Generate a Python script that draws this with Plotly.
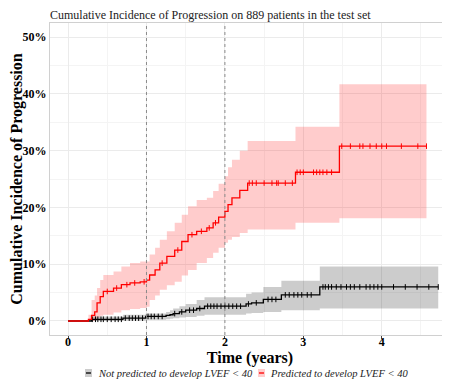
import numpy as np
import plotly.graph_objects as go

# ---- data (percent) ----
red_t  = [0, 0.26, 0.30, 0.34, 0.37, 0.41, 0.45, 0.58, 0.68, 0.79, 0.92, 1.00, 1.04, 1.11, 1.17, 1.26, 1.36, 1.45, 1.53, 1.64, 1.77, 1.85, 1.92, 2.00, 2.04, 2.09, 2.19, 2.29, 2.90, 3.46, 4.57]
red_y  = [0, 0.3, 1.0, 1.6, 3.2, 4.3, 5.2, 5.8, 6.4, 6.7, 6.9, 7.2, 8.1, 9.0, 10.2, 11.4, 12.5, 14.0, 15.2, 15.8, 16.4, 17.3, 18.3, 19.3, 20.5, 21.7, 23.0, 24.3, 26.2, 30.8, 30.8]
red_hi = [0, 1.1, 3.7, 4.5, 5.8, 7.2, 8.1, 8.7, 9.6, 10.2, 10.5, 10.5, 11.7, 12.9, 14.3, 15.8, 17.3, 18.7, 20.2, 21.3, 21.7, 22.9, 24.2, 25.5, 27.1, 28.4, 30.0, 31.7, 34.2, 41.7, 41.7]
red_lo = [0, 0, 0, 0.3, 0.6, 0.9, 1.1, 1.5, 1.9, 2.1, 2.3, 2.5, 3.7, 4.5, 5.5, 6.3, 6.9, 8.0, 9.0, 10.2, 11.1, 12.0, 12.9, 13.8, 14.3, 14.8, 15.5, 16.1, 17.3, 18.1, 18.1]

blk_t  = [0, 0.26, 0.30, 0.70, 0.99, 1.25, 1.30, 1.34, 1.42, 1.50, 1.64, 1.74, 2.27, 2.34, 2.49, 2.72, 3.21, 4.72]
blk_y  = [0, 0.0, 0.3, 0.5, 0.8, 1.0, 1.1, 1.3, 1.6, 1.9, 2.2, 2.6, 3.0, 3.2, 3.8, 4.6, 6.0, 6.0]
blk_hi = [0, 0, 0.8, 1.1, 1.3, 1.6, 1.9, 2.2, 2.6, 3.0, 3.7, 4.2, 4.8, 5.0, 6.0, 7.1, 9.6, 9.6]
blk_lo = [0, 0, 0, 0.1, 0.2, 0.3, 0.4, 0.5, 0.6, 0.7, 0.9, 1.1, 1.3, 1.4, 1.6, 1.9, 2.2, 2.2]

red_cens = [0.5, 0.62, 0.75, 0.85, 0.97, 1.2, 1.4, 1.58, 1.7, 1.8, 1.88, 2.31, 2.35, 2.40, 2.50, 2.60, 2.66, 2.68, 2.77, 2.86,
            2.92, 2.96, 3.00, 3.13, 3.17, 3.21, 3.25, 3.30, 3.36, 3.49, 3.60, 3.72, 3.76, 3.85, 3.93, 4.00, 4.06, 4.25, 4.46, 4.57]
blk_cens = [0.31, 0.35, 0.38, 0.42, 0.45, 0.5, 0.55, 0.6, 0.64, 0.68, 0.73, 0.78, 0.82, 0.86, 0.9, 0.95, 1.02, 1.06, 1.1, 1.15,
            1.2, 1.36, 1.45, 1.55, 1.6, 1.68, 1.78, 1.82, 1.86, 1.9, 1.95, 2.0, 2.05, 2.1, 2.15, 2.2, 2.3, 2.4, 2.55, 2.6, 2.65,
            2.77, 2.82, 2.88, 2.93, 2.98, 3.05, 3.1, 3.25, 3.28, 3.32, 3.36, 3.42, 3.48, 3.55, 3.6, 3.65, 3.72, 3.8, 3.85, 3.9,
            3.95, 4.0, 4.15, 4.3, 4.45, 4.6, 4.72]

y_ticks = [0, 10, 20, 30, 40, 50]
x_ticks = [0, 1, 2, 3, 4]
legend_names = ["Not predicted to develop LVEF < 40", "Predicted to develop LVEF < 40"]
legend_fill = ["rgba(0,0,0,0.2)", "rgba(255,0,0,0.2)"]
legend_line = ["black", "red"]

def step_at(ts, ys, q):
    idx = np.searchsorted(np.array(ts), np.array(q), side="right") - 1
    return [ys[i] for i in idx]

SERIF = "Liberation Serif, Times New Roman, serif"
fig = go.Figure()

def add_band(t, lo, hi, fillc, name):
    fig.add_trace(go.Scatter(x=t, y=lo, mode="lines", line=dict(width=0, shape="hv"),
                             showlegend=False, hoverinfo="skip"))
    fig.add_trace(go.Scatter(x=t, y=hi, mode="lines", line=dict(width=0, shape="hv"),
                             fill="tonexty", fillcolor=fillc, name=name, showlegend=False))

def add_curve(t, y, cens, color):
    fig.add_trace(go.Scatter(x=t, y=y, mode="lines", line=dict(color=color, width=1.3, shape="hv"),
                             showlegend=False))
    fig.add_trace(go.Scatter(x=cens, y=step_at(t, y, cens), mode="markers",
                             marker=dict(symbol="line-ns-open", size=4, color=color,
                                         line=dict(color=color, width=1)),
                             showlegend=False))

add_band(blk_t, blk_lo, blk_hi, legend_fill[0], legend_names[0])
add_band(red_t, red_lo, red_hi, legend_fill[1], legend_names[1])
add_curve(blk_t, blk_y, blk_cens, legend_line[0])
add_curve(red_t, red_y, red_cens, legend_line[1])

for xv in [1, 2]:
    fig.add_vline(x=xv, line=dict(color="#8a8a8a", width=1, dash="dot"))

# page body adds an 8px offset; figure coords = screen - 8
W, H = 442, 371
L, T, B = 42, 15, 44
PW, PH = W - L, H - T - B

def px(fx):
    return (fx - L) / PW

def py(fy):
    return (H - B - fy) / PH

# custom legend row (symbols + italic text) below the plot
leg_sym_x = [77, 250]
leg_txt_x = [88, 260]
leg_cy = 365
for i in range(2):
    fig.add_shape(type="rect", xref="paper", yref="paper",
                  x0=px(leg_sym_x[i]), x1=px(leg_sym_x[i] + 7), y0=py(leg_cy - 4), y1=py(leg_cy + 4),
                  fillcolor=legend_fill[i], line=dict(width=0))
    fig.add_shape(type="line", xref="paper", yref="paper",
                  x0=px(leg_sym_x[i] + 1), x1=px(leg_sym_x[i] + 6), y0=py(leg_cy), y1=py(leg_cy),
                  line=dict(color=legend_line[i], width=1.3))
    fig.add_annotation(text=legend_names[i], xref="paper", yref="paper",
                       x=px(leg_txt_x[i]), y=py(leg_cy), xanchor="left", yanchor="middle",
                       showarrow=False, font=dict(family=SERIF, size=10.5, style="italic", color="#222222"))

fig.update_layout(
    width=W, height=H,
    margin=dict(l=L, r=0, t=T, b=B),
    plot_bgcolor="white", paper_bgcolor="white",
    font=dict(family=SERIF, color="black"),
    title=dict(text="Cumulative Incidence of Progression on 889 patients in the test set",
               x=42/W, xanchor="left", xref="container", y=1-7/H, yanchor="middle",
               font=dict(family=SERIF, size=12, color="#222222")),
    xaxis=dict(range=[-0.23, 4.87], tickvals=x_ticks, ticktext=[f"<b>{v}</b>" for v in x_ticks],
               showgrid=True, gridcolor="#ebebeb", gridwidth=1,
               minor=dict(dtick=0.5, tick0=0, showgrid=True, gridcolor="#f4f4f4"),
               showline=True, mirror=True, linecolor="#d0d0d0", zeroline=False,
               ticks="outside", ticklen=3, tickcolor="#444444", ticklabelstandoff=-7,
               tickfont=dict(size=12, family=SERIF),
               title=dict(text="<b>Time (years)</b>", font=dict(size=16, family=SERIF), standoff=0)),
    yaxis=dict(range=[-2.47, 52.5], tickvals=y_ticks, ticktext=[f"<b>{v}%</b>" for v in y_ticks],
               showgrid=True, gridcolor="#ebebeb", gridwidth=1,
               minor=dict(dtick=5, tick0=0, showgrid=True, gridcolor="#f4f4f4"),
               showline=True, mirror=True, linecolor="#d0d0d0", zeroline=False,
               ticks="", tickfont=dict(size=12, family=SERIF),
               title=dict(text="<b>Cumulative Incidence of Progression</b>", font=dict(size=16, family=SERIF), standoff=0)),
    showlegend=False,
)

fig.write_html("out.html")
